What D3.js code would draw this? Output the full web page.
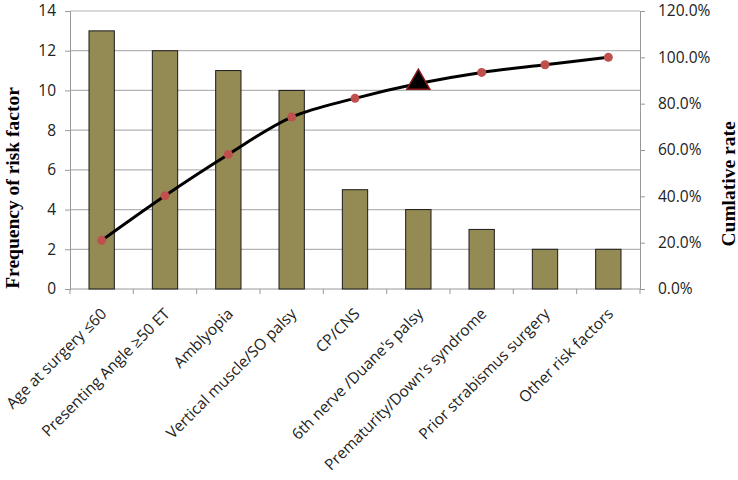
<!DOCTYPE html>
<html>
<head>
<meta charset="utf-8">
<script src="https://cdnjs.cloudflare.com/ajax/libs/d3/7.8.5/d3.min.js"></script>
<style>
  body { margin: 0; background: #fff; }
  .tick text { font-family: "Open Sans", Lato, sans-serif; }
</style>
</head>
<body>
<div id="chart"></div>
<script>
// categories and values
const factors = [
  "Age at surgery \u226460",
  "Presenting Angle \u226550 ET",
  "Amblyopia",
  "Vertical muscle/SO palsy",
  "CP/CNS",
  "6th nerve /Duane's palsy",
  "Prematurity/Down's syndrome",
  "Prior strabismus  surgery",
  "Other risk factors"
];
const frequency = [13, 12, 11, 10, 5, 4, 3, 2, 2];
const cumulative = [21.0, 40.3, 58.1, 74.2, 82.3, 88.7, 93.5, 96.8, 100.0];
const highlightIndex = 5; // the triangle marker
const leftTicks = [0, 2, 4, 6, 8, 10, 12, 14];
const rightTicks = [0, 20, 40, 60, 80, 100, 120];

var margin = { top: 11, right: 98, bottom: 191, left: 70 },
  width = 738,
  height = 480,
  iwidth = width - margin.left - margin.right,
  iheight = height - margin.top - margin.bottom;

var svg = d3.select("#chart")
  .append("svg")
  .attr("width", width)
  .attr("height", height)
  .append("g")
  .attr("transform", "translate(" + margin.left + "," + margin.top + ")");

const x = d3.scaleBand() // bar scale
  .domain(factors)
  .range([0, iwidth])
  .paddingInner(0.6)
  .paddingOuter(0.3);

const band = d3.scaleBand() // full category slots, for boundary ticks
  .domain(factors)
  .range([0, iwidth]);

var y = d3.scaleLinear().domain([0, 14]).range([iheight, 0]);
var y2 = d3.scaleLinear().domain([0, 120]).range([iheight, 0]);

// gridlines
svg.append("g")
  .selectAll("line")
  .data(leftTicks.slice(1))
  .enter()
  .append("line")
  .attr("x1", 0)
  .attr("x2", iwidth)
  .attr("y1", d => y(d))
  .attr("y2", d => y(d))
  .attr("stroke", "#b3b3b3")
  .attr("stroke-width", 1.2);

// left axis
var yAxis = svg.append("g")
  .call(d3.axisLeft(y).tickValues(leftTicks).tickSize(5).tickPadding(9));
yAxis.selectAll("text").style("font-size", "15.5px").attr("fill", "#222");
yAxis.selectAll("line,path").attr("stroke", "#999");

// right axis
var yAxis2 = svg.append("g")
  .attr("transform", `translate(${iwidth},0)`)
  .call(d3.axisRight(y2).tickValues(rightTicks).tickSize(5).tickPadding(13)
    .tickFormat(d => d.toFixed(1) + "%"));
yAxis2.selectAll("text").style("font-size", "15.5px").attr("fill", "#222");
yAxis2.selectAll("line,path").attr("stroke", "#999");

// bottom axis line with ticks at category boundaries
var xg = svg.append("g").attr("transform", `translate(0,${iheight})`);
xg.append("line")
  .attr("x1", 0).attr("x2", iwidth)
  .attr("stroke", "#999");
xg.selectAll(".bt")
  .data(factors.map(d => band(d)).concat([iwidth]))
  .enter()
  .append("line")
  .attr("x1", d => d).attr("x2", d => d)
  .attr("y1", 0).attr("y2", 5)
  .attr("stroke", "#999");

// category labels
xg.selectAll(".lab")
  .data(factors)
  .enter()
  .append("text")
  .attr("transform", d => `translate(${band(d) + band.bandwidth() / 2 + 2},22) rotate(-45)`)
  .attr("text-anchor", "end")
  .attr("dy", "0.35em")
  .style("font-family", "'Open Sans', Lato, sans-serif")
  .style("font-size", "15.5px")
  .attr("fill", "#222")
  .text(d => d);

// bars
svg.selectAll("rect.bar")
  .data(frequency)
  .enter()
  .append("rect")
  .attr("class", "bar")
  .attr("x", (d, i) => x(factors[i]))
  .attr("y", d => y(d))
  .attr("width", x.bandwidth())
  .attr("height", d => y(0) - y(d))
  .attr("fill", "#948a54")
  .attr("stroke", "#1a1a1a")
  .attr("stroke-width", 1);

// cumulative line
var line = d3.line()
  .x((d, i) => band(factors[i]) + band.bandwidth() / 2)
  .y(d => y2(d))
  .curve(d3.curveCatmullRom);

svg.append("path")
  .datum(cumulative)
  .attr("d", line)
  .attr("fill", "none")
  .attr("stroke", "#000")
  .attr("stroke-width", 3);

svg.selectAll("circle.pt")
  .data(cumulative.map((v, i) => ({ v, i })).filter(d => d.i !== highlightIndex))
  .enter()
  .append("circle")
  .attr("class", "pt")
  .attr("cx", d => band(factors[d.i]) + band.bandwidth() / 2)
  .attr("cy", d => y2(d.v))
  .attr("r", 4.5)
  .attr("fill", "#c0504d");

svg.append("path")
  .attr("d", d3.symbol().type(d3.symbolTriangle).size(230)())
  .attr("transform", `translate(${band(factors[highlightIndex]) + band.bandwidth() / 2},${y2(cumulative[highlightIndex]) - 1})`)
  .attr("fill", "#000")
  .attr("stroke", "#8b1a1a")
  .attr("stroke-width", 1.5);

// axis titles
svg.append("text")
  .attr("transform", `translate(${-margin.left + 19},${177}) rotate(-90)`)
  .attr("text-anchor", "middle")
  .style("font-family", "'Liberation Serif', 'Times New Roman', serif")
  .style("font-weight", "bold")
  .style("font-size", "19.5px")
  .text("Frequency of risk factor");

svg.append("text")
  .attr("transform", `translate(${iwidth + 95},${173}) rotate(-90)`)
  .attr("text-anchor", "middle")
  .style("font-family", "'Liberation Serif', 'Times New Roman', serif")
  .style("font-weight", "bold")
  .style("font-size", "19.5px")
  .text("Cumlative rate");
</script>
</body>
</html>
